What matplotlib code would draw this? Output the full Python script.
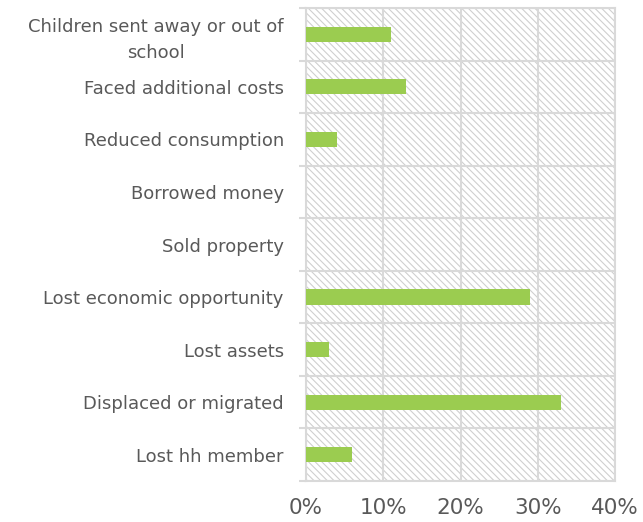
import matplotlib
matplotlib.use("Agg")
import matplotlib.pyplot as plt
import numpy as np
from matplotlib.ticker import FixedLocator, PercentFormatter

categories = ["Children sent away or out of\nschool", "Faced additional costs", "Reduced consumption",
              "Borrowed money", "Sold property", "Lost economic opportunity", "Lost assets",
              "Displaced or migrated", "Lost hh member"]
values = [11, 13, 4, 0, 0, 29, 3, 33, 6]
xticks = [0, 10, 20, 30, 40]

plt.rcParams['hatch.linewidth'] = 0.8
plt.rcParams['font.family'] = ['DejaVu Sans']

fig = plt.figure(figsize=(6.43, 5.22), dpi=100)
ax = fig.add_axes([306/643, 1-481/522, (615-306)/643, (481-8)/522])

text_color = '#595959'
grid_color = '#d9d9d9'

ax.patch.set_facecolor('white')
ax.patch.set_hatch('\\' * 5)
ax.patch.set_edgecolor('#cfcfcf')

y = np.arange(len(categories))
ax.barh(y, values, height=0.29, color='#9bcc50', zorder=3)
ax.set_ylim(len(categories) - 0.5, -0.5)
ax.set_xlim(0, 40)

ax.set_yticks(y)
labels = ax.set_yticklabels(categories, fontsize=13, color=text_color, linespacing=1.55)
for lab in labels:
    lab.set_multialignment('center')
ax.yaxis.set_minor_locator(FixedLocator(np.arange(-0.5, len(categories), 1)))
ax.tick_params(axis='y', which='major', length=0, pad=16)
ax.tick_params(axis='y', which='minor', length=5, color=grid_color, width=1.5)

ax.set_xticks(xticks)
ax.xaxis.set_major_formatter(PercentFormatter(decimals=0))
ax.tick_params(axis='x', length=0, labelsize=15.5, labelcolor=text_color, pad=12)

ax.grid(axis='x', which='major', color=grid_color, linewidth=1.5, zorder=1)
ax.grid(axis='y', which='minor', color=grid_color, linewidth=1.5, zorder=1)
ax.set_axisbelow(True)
for s in ax.spines.values():
    s.set_color(grid_color)
    s.set_linewidth(1.5)

fig.savefig('out.png', dpi=100)
